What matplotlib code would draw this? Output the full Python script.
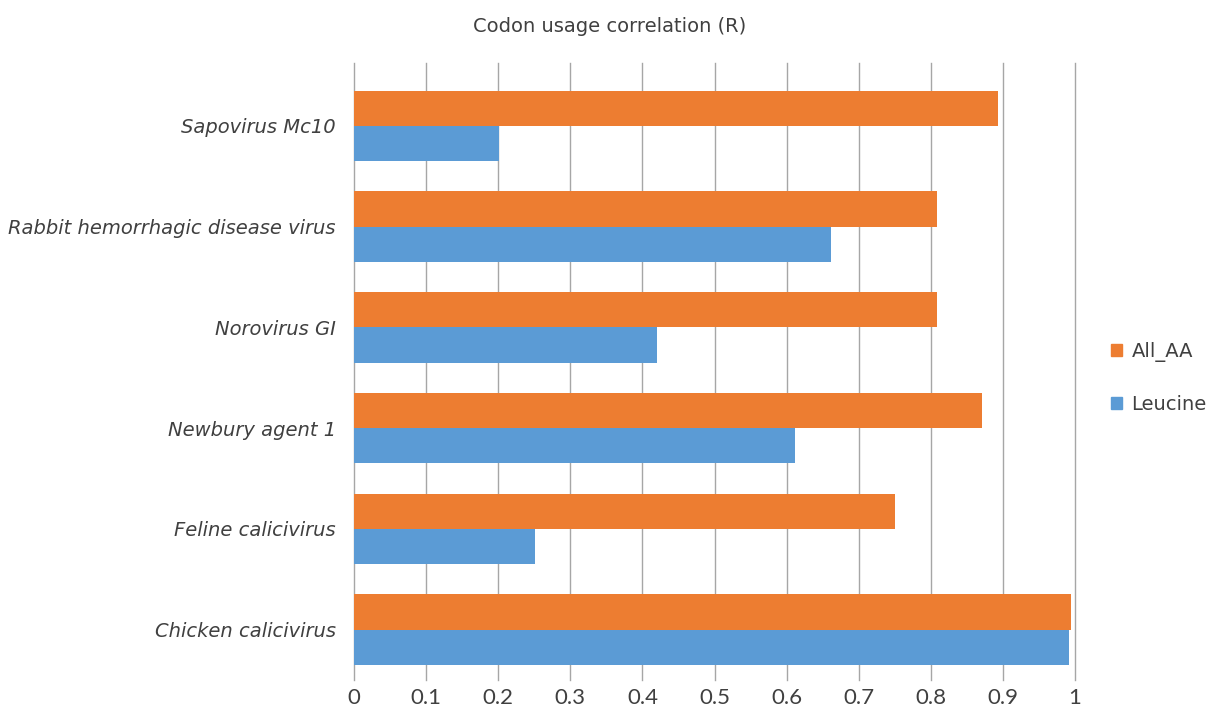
import matplotlib
matplotlib.use("Agg")
import matplotlib.pyplot as plt
import numpy as np
from matplotlib.patches import Patch

categories = ["Chicken calicivirus", "Feline calicivirus", "Newbury agent 1",
              "Norovirus GI", "Rabbit hemorrhagic disease virus", "Sapovirus Mc10"]
all_aa = [0.995, 0.751, 0.871, 0.809, 0.809, 0.893]
leucine = [0.992, 0.251, 0.611, 0.42, 0.662, 0.201]
xticks = [0, 0.1, 0.2, 0.3, 0.4, 0.5, 0.6, 0.7, 0.8, 0.9, 1]
xtick_labels = ["0", "0.1", "0.2", "0.3", "0.4", "0.5", "0.6", "0.7", "0.8", "0.9", "1"]

plt.rcParams['font.family'] = ['DejaVu Sans']
TXT = "#404040"

fig = plt.figure(figsize=(12.07, 7.11), dpi=100)
ax = fig.add_axes([354/1207, 1-680/711, (1075-354)/1207, (680-63)/711])

y = np.arange(len(categories))
h = 0.35
ax.barh(y - h/2, leucine, height=h, color="#5B9BD5", zorder=3)
ax.barh(y + h/2, all_aa, height=h, color="#ED7D31", zorder=3)

ax.set_xlim(0, 1)
ax.set_ylim(-0.5, len(categories) - 0.5 + 0.125)
ax.set_xticks(xticks)
ax.set_xticklabels(xtick_labels, fontsize=16, color=TXT, family="Lato")
ax.set_yticks(y)
ax.set_yticklabels(categories, fontsize=14, style="italic", color=TXT)
ax.tick_params(axis='y', length=0, pad=13)
ax.tick_params(axis='x', length=0, pad=6)
ax.grid(axis='x', color="#a6a6a6", linewidth=1, zorder=0)
for gl in ax.get_xgridlines():
    gl.set_clip_on(False)
for s in ax.spines.values():
    s.set_visible(False)

fig.text(610/1207, 1-27/711, "Codon usage correlation (R)", ha="center", va="center",
         fontsize=14, color=TXT)

handles = [Patch(color="#ED7D31", label="All_AA"), Patch(color="#5B9BD5", label="Leucine")]
fig.legend(handles=handles, loc="center left", bbox_to_anchor=(1111/1207, 1-378/711),
           frameon=False, fontsize=14, handlelength=0.55, handleheight=0.55,
           handletextpad=0.5, labelspacing=1.7, labelcolor=TXT, borderpad=0, borderaxespad=0)

fig.savefig("out.png", dpi=100, facecolor="white")
